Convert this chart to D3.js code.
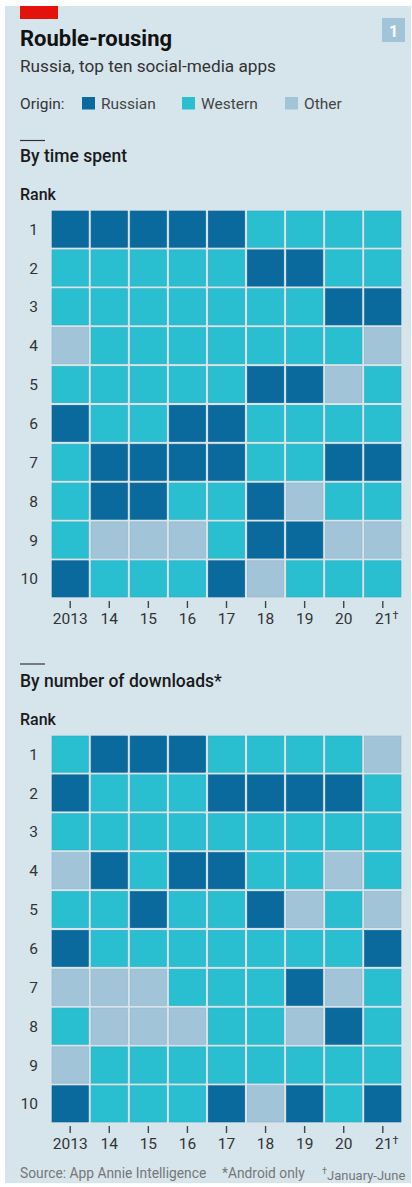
<!DOCTYPE html>
<html><head><meta charset="utf-8">
<script src="https://cdn.jsdelivr.net/npm/d3@7"></script>
<style>
html,body{margin:0;padding:0;background:#fff;}
svg{display:block;font-family:Roboto,"Open Sans",sans-serif;}
</style></head>
<body>
<svg id="c" width="412" height="1187"></svg>
<script>
const years = ["2013","14","15","16","17","18","19","20","21"];
const ranks = [1,2,3,4,5,6,7,8,9,10];
const origins = ["Russian","Western","Other"];
// rows = rank 1..10, columns = years; R Russian, W Western, O Other
const timeSpent = [
 "RRRRRWWWW",
 "WWWWWRRWW",
 "WWWWWWWRR",
 "OWWWWWWWO",
 "WWWWWRROW",
 "RWWRRWWWW",
 "WRRRRWWRR",
 "WRRWWROWW",
 "WOOOWRROO",
 "RWWWROWWW"
];
const downloads = [
 "WRRRWWWWO",
 "RWWWRRRRW",
 "WWWWWWWWW",
 "ORWRRWWOW",
 "WWRWWROWO",
 "RWWWWWWWR",
 "OOOWWWROW",
 "WOOOWWORW",
 "OWWWWWWWW",
 "RWWWRORWR"
];

const code = {R:"Russian", W:"Western", O:"Other"};
const color = d3.scaleOrdinal().domain(origins).range(["#0a6a9d","#2abfd0","#a2c4d9"]);
const svg = d3.select("#c");

svg.append("rect").attr("x",5).attr("y",6).attr("width",406).attr("height",1177).attr("fill","#d6e4ec");
svg.append("rect").attr("x",20).attr("y",6).attr("width",38).attr("height",13).attr("fill","#e3120b");
// badge
svg.append("rect").attr("x",382).attr("y",18).attr("width",23).attr("height",24).attr("fill","#a2c4d9");
svg.append("text").attr("x",393.5).attr("y",36.5).attr("text-anchor","middle").attr("fill","#fff")
  .attr("font-size",16).attr("font-weight",700).text("1");

svg.append("text").attr("x",20).attr("y",46).attr("font-size",22).attr("font-weight",700).attr("fill","#121212").text("Rouble-rousing");
svg.append("text").attr("x",20).attr("y",72).attr("font-size",17.2).attr("fill","#333").text("Russia, top ten social-media apps");

// legend
const lg = svg.append("g").attr("font-size",15.5).attr("fill","#333");
lg.append("text").attr("x",20).attr("y",109).text("Origin:");
const legX = [82,182,285];
origins.forEach((o,i)=>{
  lg.append("rect").attr("x",legX[i]).attr("y",97).attr("width",13).attr("height",12.5).attr("fill",color(o));
  lg.append("text").attr("x",legX[i]+19).attr("y",109).attr("fill","#444").text(o);
});

const x = d3.scaleBand().domain(years).range([52,401]).paddingInner(0.068).paddingOuter(0);

function panel(data, top, label, lineY, labelY, rankY){
  svg.append("line").attr("x1",20).attr("x2",45).attr("y1",lineY).attr("y2",lineY).attr("stroke","#333").attr("stroke-width",1.2);
  svg.append("text").attr("x",20).attr("y",labelY).attr("font-size",17.5).attr("font-weight",500).attr("fill","#1a1a1a").text(label);
  svg.append("text").attr("x",20).attr("y",rankY).attr("font-size",16).attr("font-weight",500).attr("fill","#1a1a1a").text("Rank");
  const y = d3.scaleBand().domain(ranks).range([top, top+386]).paddingInner(0.068).paddingOuter(0);
  const cells = [];
  data.forEach((row,ri)=>{ row.split("").forEach((c,ci)=>cells.push({rank:ranks[ri], year:years[ci], origin:code[c]})); });
  svg.append("g").selectAll("rect").data(cells).join("rect")
    .attr("x",d=>x(d.year)).attr("y",d=>y(d.rank))
    .attr("width",x.bandwidth()).attr("height",y.bandwidth())
    .attr("fill",d=>color(d.origin))
    .attr("stroke",d=>d3.color(color(d.origin)).darker(0.25)).attr("stroke-width",0.6);
  // y axis
  const ya = svg.append("g").attr("transform",`translate(38,0)`)
    .call(d3.axisLeft(y).tickSize(0).tickPadding(0));
  ya.select(".domain").remove();
  ya.selectAll("text").attr("font-size",15.5).attr("font-family","Roboto,sans-serif").attr("fill","#333").attr("dy","0.36em");
  // x axis
  const xa = svg.append("g").attr("transform",`translate(0,${top+390})`)
    .call(d3.axisBottom(x).tickSize(7).tickPadding(5));
  xa.select(".domain").remove();
  xa.selectAll("line").attr("stroke","#444").attr("stroke-width",1.4);
  xa.selectAll("text").attr("font-size",15.5).attr("font-family","Roboto,sans-serif").attr("fill","#333");
  xa.selectAll("text").filter(d=>d==="21").append("tspan").attr("dy","-0.45em").attr("font-size",11).text("†");
  xa.selectAll("text").filter(d=>d==="21").attr("text-anchor","start").attr("x",-x.bandwidth()/2+ 10.5);
}

panel(timeSpent, 211, "By time spent", 140.5, 162, 200);
panel(downloads, 736, "By number of downloads*", 664, 687, 725);

const ft = svg.append("g").attr("font-size",13.8).attr("fill","#777");
ft.append("text").attr("x",20).attr("y",1178).text("Source: App Annie Intelligence");
ft.append("text").attr("x",222).attr("y",1178).text("*Android only");
const t3 = ft.append("text").attr("x",322).attr("y",1178).attr("font-size",13);
t3.append("tspan").attr("font-size",9).attr("dy","-0.4em").text("†");
t3.append("tspan").attr("dy","0.4em").text("January-June");
</script>
</body></html>
